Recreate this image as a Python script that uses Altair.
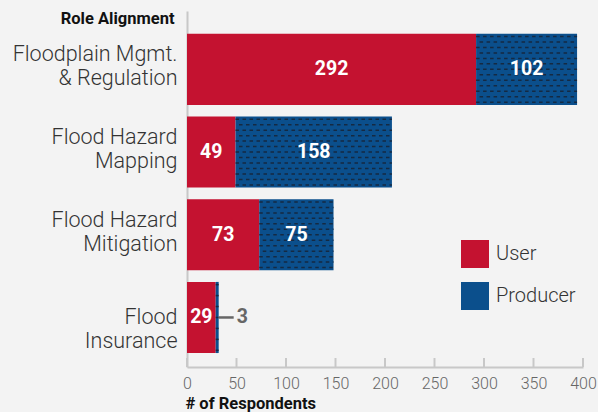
import altair as alt
import pandas as pd

# Respondents per role alignment, split into user / producer
categories = [
    "Floodplain Mgmt.\n& Regulation",
    "Flood Hazard\nMapping",
    "Flood Hazard\nMitigation",
    "Flood\nInsurance",
]
user = [292, 49, 73, 29]
producer = [102, 158, 75, 3]
roles = ["User", "Producer"]
role_colors = ["#c41230", "#0b4f8c"]
x_ticks = [0, 50, 100, 150, 200, 250, 300, 350, 400]

FONT = "Roboto"
TEXTURE_ROWS = 13  # horizontal dash rows drawn over each producer segment

records = []
for cat, u, p in zip(categories, user, producer):
    records.append(dict(category=cat, role="User", value=u, start=0, end=u))
    records.append(dict(category=cat, role="Producer", value=p, start=u, end=u + p))
bars_df = pd.DataFrame(records)
bars_df["mid"] = (bars_df["start"] + bars_df["end"]) / 2
bars_df["inside"] = bars_df["value"] >= 10

texture_df = pd.DataFrame(
    [
        dict(category=r.category, start=r.start, end=r.end, row=k, odd=k % 2)
        for r in bars_df[bars_df.role == "Producer"].itertuples()
        for k in range(TEXTURE_ROWS)
    ]
)
ticks_df = pd.DataFrame({"tick": x_ticks})

y_enc = alt.Y(
    "category:N",
    sort=categories,
    scale=alt.Scale(domain=categories, paddingInner=0.14, paddingOuter=0.222, align=0.62),
    axis=alt.Axis(
        title="Role Alignment",
        titleAngle=0,
        titleAlign="right",
        titleBaseline="middle",
        titleX=-13,
        titleY=7,
        titleFont=FONT,
        titleFontSize=16.5,
        titleFontWeight="bold",
        titleColor="#111111",
        labelExpr="split(datum.label, '\\n')",
        labelFont=FONT,
        labelFontSize=21.5,
        labelFontWeight=300,
        labelLineHeight=24,
        labelColor="#333333",
        labelPadding=10,
        labelLimit=300,
        labelOffset={
            "condition": {"test": "indexof(datum.value, 'Insurance') >= 0", "value": 1},
            "value": -14,
        },
        ticks=False,
        domainColor="#c8c8c8",
        domainWidth=2,
    ),
)

x_scale = alt.Scale(domain=[0, 400], nice=False)

bars = alt.Chart(bars_df).mark_bar(cornerRadius=0).encode(
    x=alt.X(
        "start:Q",
        scale=x_scale,
        axis=alt.Axis(
            values=x_ticks,
            title="# of Respondents",
            titleAnchor="start",
            titleAlign="left",
            titleBaseline="middle",
            titleX=-2,
            titleY=36,
            titleFont=FONT,
            titleFontSize=16.5,
            titleFontWeight="bold",
            titleColor="#111111",
            labelFont=FONT,
            labelFontSize=16,
            labelFontWeight=300,
            labelColor="#666666",
            labelPadding=8,
            labelFlush=False,
            labelOverlap=False,
            ticks=False,
            grid=False,
            domainColor="#c8c8c8",
            domainWidth=2,
        ),
    ),
    x2="end:Q",
    y=y_enc,
    color=alt.Color(
        "role:N",
        scale=alt.Scale(domain=roles, range=role_colors),
        legend=alt.Legend(
            title=None,
            orient="none",
            legendX=274,
            legendY=229,
            symbolType="square",
            symbolSize=784,
            symbolStrokeWidth=0,
            symbolOpacity=1,
            labelFont=FONT,
            labelFontSize=20,
            labelFontWeight=300,
            labelColor="#333333",
            labelOffset=7,
            rowPadding=14,
            padding=0,
        ),
    ),
)


def texture(parity, offset):
    return (
        alt.Chart(texture_df)
        .transform_filter(alt.datum.odd == parity)
        .mark_rule(
            color="#16263a",
            opacity=0.9,
            strokeWidth=1.5,
            strokeDash=[3.5, 3.5],
            strokeDashOffset=offset,
        )
        .encode(
            x=alt.X("start:Q", scale=x_scale),
            x2="end:Q",
            y=y_enc,
            yOffset=alt.YOffset(
                "row:O",
                scale=alt.Scale(domain=list(range(TEXTURE_ROWS)), paddingInner=0, paddingOuter=0),
            ),
        )
    )


ticks = alt.Chart(ticks_df).mark_rule(color="#c8c8c8", strokeWidth=2).encode(
    x=alt.X("tick:Q", scale=x_scale),
    y=alt.value(347),
    y2=alt.value(356),
)

inner_labels = (
    alt.Chart(bars_df)
    .transform_filter(alt.datum.inside)
    .mark_text(font=FONT, fontSize=19.5, fontWeight="bold", color="white", baseline="middle")
    .encode(x=alt.X("mid:Q", scale=x_scale), y=y_enc, text="value:Q")
)

leader = (
    alt.Chart(bars_df)
    .transform_filter("!datum.inside")
    .mark_rule(color="#666666", strokeWidth=2.5, x2Offset=15)
    .encode(x=alt.X("end:Q", scale=x_scale), x2="end:Q", y=y_enc)
)

outer_labels = (
    alt.Chart(bars_df)
    .transform_filter("!datum.inside")
    .mark_text(font=FONT, fontSize=19.5, fontWeight="bold", color="#666666", align="left", baseline="middle", dx=18)
    .encode(x=alt.X("end:Q", scale=x_scale), y=y_enc, text="value:Q")
)

chart = (
    alt.layer(bars, texture(0, 0), texture(1, 3.5), ticks, inner_labels, leader, outer_labels)
    .properties(
        width=396,
        height=356,
        autosize=alt.AutoSizeParams(type="none"),
        padding={"left": 187, "top": 11, "right": 15, "bottom": 45},
        background="#f3f3f3",
    )
    .configure_view(stroke=None)
)

chart.save("out.html", embed_options={"renderer": "svg", "actions": False})
